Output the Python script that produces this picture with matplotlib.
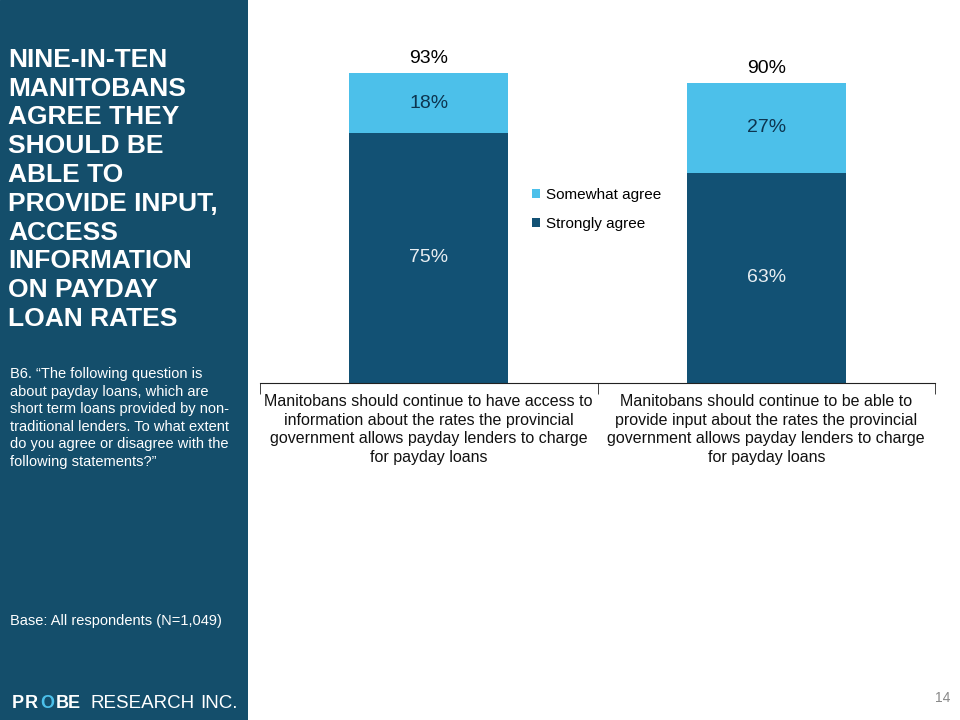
import numpy as np
import matplotlib.pyplot as plt

plt.rcParams['font.family'] = ['Liberation Sans', 'DejaVu Sans']

categories = [
    'Manitobans should continue to have access to\ninformation about the rates the provincial\n'
    'government allows payday lenders to charge\nfor payday loans',
    'Manitobans should continue to be able to\nprovide input about the rates the provincial\n'
    'government allows payday lenders to charge\nfor payday loans',
]
strongly = [75, 63]
somewhat = [18, 27]
totals = [93, 90]
series_names = ['Strongly agree', 'Somewhat agree']

DARK = '#125174'
LIGHT = '#4cc0ea'
PANEL = '#144e6b'

fig = plt.figure(figsize=(9.6, 7.2), dpi=100)

# left side panel
panel = fig.add_axes([0, 0, 248 / 960, 1])
panel.set_xlim(0, 248)
panel.set_ylim(720, 0)
panel.axis('off')
panel.add_patch(plt.Rectangle((0, 0), 248, 720, color=PANEL))
panel.text(8, 48, 'NINE-IN-TEN\nMANITOBANS\nAGREE THEY\nSHOULD BE\nABLE TO\nPROVIDE INPUT,\n'
           'ACCESS\nINFORMATION\nON PAYDAY\nLOAN RATES',
           color='white', fontsize=19, fontweight='bold', va='top', ha='left', linespacing=1.25)
panel.text(10, 367, 'B6. \u201cThe following question is\nabout payday loans, which are\n'
           'short term loans provided by non-\ntraditional lenders. To what extent\n'
           'do you agree or disagree with the\nfollowing statements?\u201d',
           color='white', fontsize=10.5, va='top', ha='left', linespacing=1.32)
panel.text(10, 621, 'Base: All respondents (N=1,049)', color='white', fontsize=10.5,
           va='center', ha='left')

# logo
logo_y = 703
for ch, lx, col in [('P', 12, 'white'), ('R', 25, 'white'), ('O', 40, LIGHT),
                    ('B', 56, 'white'), ('E', 68, 'white')]:
    panel.text(lx, logo_y, ch, color=col, fontsize=13, fontweight='bold', va='center', ha='left')
panel.text(90, logo_y, 'RESEARCH', color='white', fontsize=13.5, va='center', ha='left')
panel.text(200, logo_y, 'INC.', color='white', fontsize=13.5, va='center', ha='left')

# chart
ax = fig.add_axes([260 / 960, (720 - 383) / 720, 675 / 960, 353 / 720])
xpos = np.arange(len(categories))
w = 0.47
b1 = ax.bar(xpos, strongly, w, color=DARK, label=series_names[0])
b2 = ax.bar(xpos, somewhat, w, bottom=strongly, color=LIGHT, label=series_names[1])

for i in range(len(categories)):
    ax.text(xpos[i], strongly[i] / 2, f'{strongly[i]}%', ha='center', va='center',
            fontsize=14, color='#e8eef2')
    ax.text(xpos[i], strongly[i] + somewhat[i] / 2, f'{somewhat[i]}%', ha='center',
            va='center', fontsize=14, color='#0d3550')
    ax.text(xpos[i], totals[i] + 4.4, f'{totals[i]}%', ha='center', va='center',
            fontsize=14, color='black')

ax.set_xlim(-0.5, 1.5)
ax.set_ylim(0, 353 / (310 / 93))
for s in ['top', 'right', 'left']:
    ax.spines[s].set_visible(False)
ax.spines['bottom'].set_color('#222222')
ax.set_yticks([])
ax.set_xticks(xpos)
ax.set_xticklabels(categories, fontsize=11.5, color='#111111', linespacing=1.3)
ax.tick_params(axis='x', which='major', length=0, pad=8)
ax.set_xticks([-0.5, 0.5, 1.5], minor=True)
ax.tick_params(axis='x', which='minor', length=8, color='#222222')

handles = [b2[0], b1[0]]
ax.legend(handles, [series_names[1], series_names[0]], loc='upper left',
          bbox_to_anchor=(518 / 960, (720 - 174) / 720), bbox_transform=fig.transFigure,
          frameon=False, fontsize=11, handlelength=0.55, handleheight=0.55,
          handletextpad=0.35, labelspacing=1.0)

fig.text(950 / 960, 1 - 698 / 720, '14', fontsize=10, color='#888888', ha='right', va='center')

fig.savefig('out.png', dpi=100)
